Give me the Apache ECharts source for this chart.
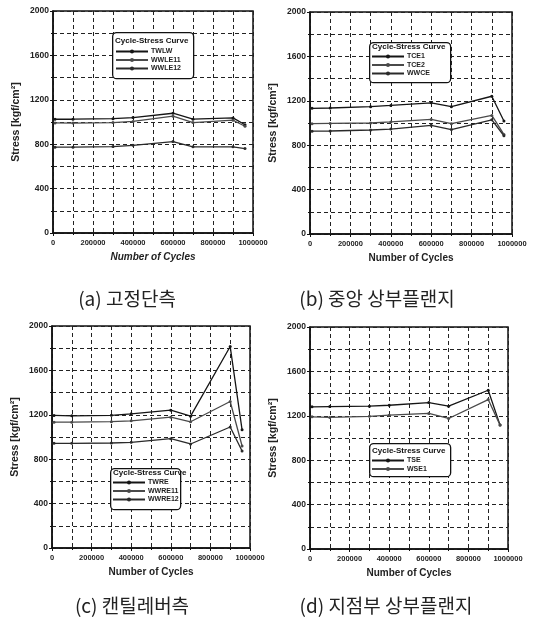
<!DOCTYPE html>
<html>
<head>
<meta charset="utf-8">
<script src="https://cdn.jsdelivr.net/npm/echarts@6/dist/echarts.min.js"></script>
<style>
  html, body { margin: 0; padding: 0; background: #fff; }
  #chart { width: 534px; height: 623px; }
</style>
</head>
<body>
<div id="chart"></div>
<script>
// number of cycles where stress was measured (same for every panel)
var cycles = [10000, 100000, 300000, 400000, 600000, 700000, 900000, 960000];

// (a) fixed end
var TWLW   = [1025, 1025, 1030, 1040, 1079, 1025, 1037, 975];
var WWLE11 = [992, 990, 995, 1005, 1052, 995, 1016, 962];
var WWLE12 = [773, 773, 779, 790, 824, 776, 776, 761];

// (b) mid-span upper flange
var TCE1 = [1132, 1135, 1147, 1158, 1182, 1147, 1241, 1018];
var TCE2 = [994, 996, 1000, 1010, 1032, 994, 1068, 897];
var WWCE = [926, 928, 937, 945, 979, 941, 1029, 885];

// (c) cantilever side
var TWRE   = [1194, 1191, 1195, 1209, 1242, 1188, 1815, 1065];
var WWRE11 = [1134, 1134, 1138, 1146, 1179, 1137, 1320, 919];
var WWRE12 = [943, 943, 946, 952, 985, 937, 1090, 874];

// (d) support upper flange
var TSE  = [1281, 1283, 1287, 1295, 1319, 1287, 1430, 1116];
var WSE1 = [1191, 1185, 1195, 1206, 1221, 1176, 1346, 1116];

var captions = ['(a) 고정단측', '(b) 중앙 상부플랜지', '(c) 캔틸레버측', '(d) 지점부 상부플랜지'];

var panels = [
  { names: ['TWLW', 'WWLE11', 'WWLE12'], data: [TWLW, WWLE11, WWLE12] },
  { names: ['TCE1', 'TCE2', 'WWCE'], data: [TCE1, TCE2, WWCE] },
  { names: ['TWRE', 'WWRE11', 'WWRE12'], data: [TWRE, WWRE11, WWRE12] },
  { names: ['TSE', 'WSE1'], data: [TSE, WSE1] }
];

var grids = [
  { left: 53, top: 11, width: 200, height: 222 },
  { left: 310, top: 12, width: 202, height: 222 },
  { left: 52, top: 326, width: 198, height: 222 },
  { left: 310, top: 327, width: 198, height: 222 }
];
var boxes = [
  { x: 112, y: 32, w: 81, h: 46, titleY: 42, legTop: 48, legLeft: 115 },
  { x: 369, y: 42, w: 81, h: 40, titleY: 48, legTop: 53, legLeft: 371 },
  { x: 110, y: 468, w: 70, h: 41, titleY: 474, legTop: 479, legLeft: 112 },
  { x: 369, y: 443, w: 81, h: 33, titleY: 452, legTop: 457, legLeft: 371 }
];
var captionPos = [[127, 299], [377, 299], [132, 606], [386, 606]];
var colors = ['#151515', '#4a4a4a', '#2a2a2a'];

var font = 'Liberation Sans, Arial, sans-serif';
var dash = { color: '#222', width: 1, type: [4, 3] };
var plain = function (v) { return String(v); };

var xAxes = [], yAxes = [], series = [], legends = [], graphics = [];

grids.forEach(function (g, i) {
  g.show = true;
  g.borderColor = '#111';
  g.borderWidth = 1.5;
  g.backgroundColor = 'transparent';

  xAxes.push({
    type: 'value', gridIndex: i, min: 0, max: 1000000, interval: 200000,
    name: 'Number of Cycles', nameLocation: 'middle', nameGap: 19,
    nameTextStyle: { fontFamily: font, fontSize: 10, fontWeight: 'bold',
      fontStyle: i === 0 ? 'italic' : 'normal', color: '#222' },
    axisLine: { lineStyle: { color: '#111', width: 1.5 } },
    axisTick: { show: true, length: 3, lineStyle: { color: '#111' } },
    minorTick: { show: true, splitNumber: 2, length: 2, lineStyle: { color: '#111' } },
    axisLabel: { fontFamily: font, fontSize: 7.5, fontWeight: 'bold', color: '#222', margin: 6,
      hideOverlap: false, formatter: plain },
    splitLine: { show: true, lineStyle: dash },
    minorSplitLine: { show: true, lineStyle: dash }
  });
  yAxes.push({
    type: 'value', gridIndex: i, min: 0, max: 2000, interval: 400,
    name: 'Stress [kgf/cm²]', nameLocation: 'middle', nameGap: 31,
    nameTextStyle: { fontFamily: font, fontSize: 10.5, fontWeight: 'bold', color: '#222' },
    axisLine: { show: true, lineStyle: { color: '#111', width: 1.5 } },
    axisTick: { show: true, length: 3, lineStyle: { color: '#111' } },
    minorTick: { show: true, splitNumber: 2, length: 2, lineStyle: { color: '#111' } },
    axisLabel: { fontFamily: font, fontSize: 8.5, fontWeight: 'bold', color: '#222', margin: 4,
      formatter: plain },
    splitLine: { show: true, lineStyle: dash },
    minorSplitLine: { show: true, lineStyle: dash }
  });

  var p = panels[i];
  p.names.forEach(function (name, k) {
    series.push({
      name: name, type: 'line', xAxisIndex: i, yAxisIndex: i,
      data: cycles.map(function (c, j) { return [c, p.data[k][j]]; }),
      symbol: 'circle', symbolSize: 3,
      lineStyle: { color: colors[k], width: 1.3 },
      itemStyle: { color: colors[k] },
      z: 3
    });
  });

  var b = boxes[i];
  legends.push({
    data: p.names, orient: 'vertical', left: b.legLeft, top: b.legTop,
    padding: 0, itemWidth: 32, itemHeight: 5, itemGap: 1.5,
    selectedMode: false, z: 10,
    textStyle: { fontFamily: font, fontSize: 7, fontWeight: 'bold', color: '#222', padding: [0, 0, 0, -2] }
  });
  graphics.push({
    type: 'rect', z: 5, left: b.x, top: b.y,
    shape: { width: b.w, height: b.h, r: 4 },
    style: { fill: '#fff', stroke: '#111', lineWidth: 1.3 }
  });
  graphics.push({
    type: 'text', z: 6, left: b.x + 3, top: b.titleY - 5,
    style: { text: 'Cycle-Stress Curve', fontFamily: font, fontSize: 8, fontWeight: 'bold', fill: '#111' }
  });
  graphics.push({
    type: 'text', z: 6, x: captionPos[i][0], y: captionPos[i][1],
    style: { text: captions[i], fontFamily: 'Noto Sans CJK KR, sans-serif', fontSize: 19,
      fill: '#222', align: 'center', verticalAlign: 'middle' }
  });
});

var chart = echarts.init(document.getElementById('chart'));
chart.setOption({
  backgroundColor: '#fff',
  animation: false,
  grid: grids,
  xAxis: xAxes,
  yAxis: yAxes,
  legend: legends,
  graphic: graphics,
  series: series
});
</script>
</body>
</html>
